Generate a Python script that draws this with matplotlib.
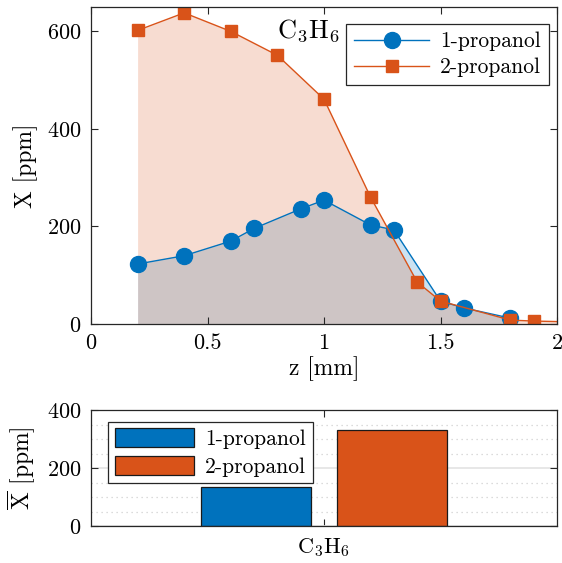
import numpy as np
import matplotlib
matplotlib.use("Agg")
import matplotlib.pyplot as plt
from matplotlib.ticker import MultipleLocator

plt.rcParams['font.family'] = 'serif'
plt.rcParams['font.serif'] = ['cmr10', 'DejaVu Serif']
plt.rcParams['mathtext.fontset'] = 'cm'
plt.rcParams['axes.formatter.use_mathtext'] = True

# Data
z1 = [0.2, 0.4, 0.6, 0.7, 0.9, 1.0, 1.2, 1.3, 1.5, 1.6, 1.8]
x1 = [123, 140, 170, 196, 236, 254, 203, 193, 47, 33, 12]
z2 = [0.2, 0.4, 0.6, 0.8, 1.0, 1.2, 1.4, 1.5, 1.8, 1.9, 2.1]
x2 = [602, 638, 600, 551, 461, 260, 86, 47, 8, 6, 4]
species = [r'$\mathrm{C_3H_6}$']
mean1 = [135]
mean2 = [331]
names = ['1-propanol', '2-propanol']

blue = '#0072BD'
orange = '#D95319'
spine = '#262626'

fig = plt.figure(figsize=(5.62, 5.63), dpi=100)
W, H = 562, 563
L, R = 91, 557
ax1 = fig.add_axes([L / W, 1 - 324 / H, (R - L) / W, (324 - 7) / H])
ax2 = fig.add_axes([L / W, 1 - 526 / H, (R - L) / W, (526 - 410) / H])

# Top plot
ax1.fill_between(z1, x1, 0, color=blue, alpha=0.2, linewidth=0)
l1, = ax1.plot(z1, x1, '-o', color=blue, lw=1, markersize=11.5, label=names[0])
ax1.fill_between(z2, x2, 0, color=orange, alpha=0.2, linewidth=0)
l2, = ax1.plot(z2, x2, '-s', color=orange, lw=1, markersize=9, label=names[1])
ax1.set_xlim(0, 2)
ax1.set_ylim(0, 650)
ax1.set_xticks([0, 0.5, 1, 1.5, 2])
ax1.set_xticklabels(['0', '0.5', '1', '1.5', '2'])
ax1.set_yticks([0, 200, 400, 600])
ax1.set_xlabel('z [mm]', fontsize=17, labelpad=2)
ax1.set_ylabel('X [ppm]', fontsize=17, labelpad=6)
ax1.text(0.40, 0.925, r'$\mathrm{C_3H_6}$', transform=ax1.transAxes, fontsize=19,
         ha='left', va='center')
leg = ax1.legend(loc='upper right', bbox_to_anchor=(0.982, 0.946), fontsize=15.5,
                 fancybox=False, framealpha=1, edgecolor=spine, borderpad=0.35,
                 handlelength=3.5, labelspacing=0.3, handletextpad=0.5, borderaxespad=0)
leg.get_frame().set_linewidth(0.9)

# Bottom plot
pos = np.array([1.0])
bw = 0.237
off = 0.146
ax2.set_axisbelow(True)
ax2.bar(pos - off, mean1, width=bw, color=blue, edgecolor='#1a1a1a', linewidth=0.9, label=names[0])
ax2.bar(pos + off, mean2, width=bw, color=orange, edgecolor='#1a1a1a', linewidth=0.9, label=names[1])
ax2.set_xlim(0.5, 1.5)
ax2.set_ylim(0, 400)
ax2.set_yticks([0, 200, 400])
ax2.yaxis.set_minor_locator(MultipleLocator(50))
ax2.grid(True, which='major', axis='y', color='#e3e3e3', lw=1.2, linestyle='-')
ax2.grid(True, which='minor', axis='y', color='#d0d0d0', lw=0.9, linestyle=(0, (1, 3)))
ax2.tick_params(axis='y', which='minor', length=0)
ax2.set_xticks(pos)
ax2.set_xticklabels(species, fontsize=19)
ax2.tick_params(axis='x', length=0, pad=5)
ax2.set_ylabel(r'$\overline{\mathrm{X}}$ [ppm]', fontsize=17, labelpad=6)
leg2 = ax2.legend(loc='upper left', bbox_to_anchor=(0.037, 0.9), fontsize=15.5,
                  fancybox=False, framealpha=1, edgecolor=spine, borderpad=0.3,
                  handlelength=3.7, handleheight=1.0, labelspacing=0.3, handletextpad=0.5,
                  borderaxespad=0)
leg2.get_frame().set_linewidth(0.9)

for ax in (ax1, ax2):
    for s in ax.spines.values():
        s.set_color(spine)
        s.set_linewidth(0.9)
    ax.tick_params(which='major', direction='in', top=True, right=True, color=spine,
                   labelsize=16, length=5, width=0.8, pad=7)

fig.savefig('out.png', dpi=100)
